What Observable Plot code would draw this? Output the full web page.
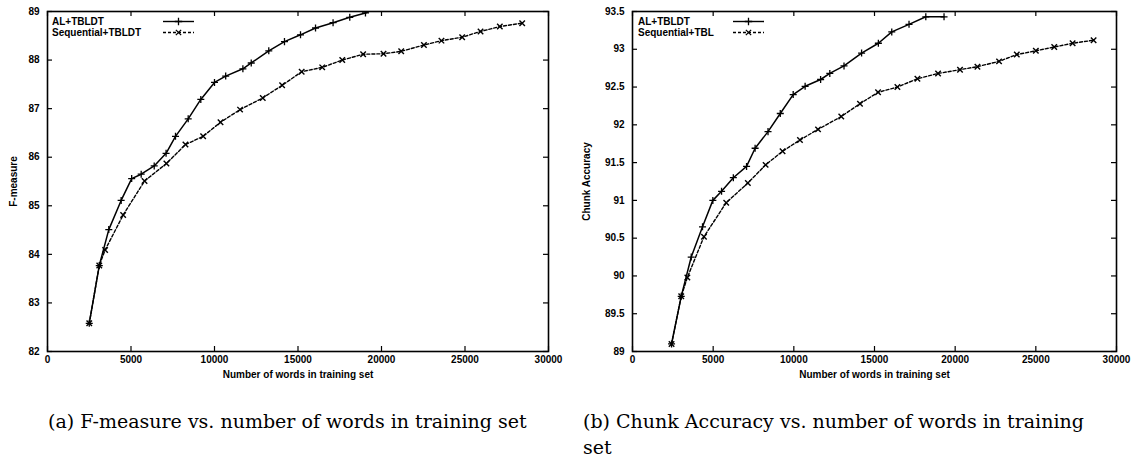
<!DOCTYPE html>
<html><head><meta charset="utf-8">
<script src="https://cdn.jsdelivr.net/npm/d3@7"></script>
<script src="https://cdn.jsdelivr.net/npm/@observablehq/plot@0.6"></script>
<style>
html,body{margin:0;padding:0;background:#fff}
body{width:1136px;height:459px;position:relative;overflow:hidden;font-family:"Liberation Sans",Arial,sans-serif}
.panel{position:absolute;top:0}
.legend{position:absolute;top:0;left:0;pointer-events:none}
.cap{position:absolute;font-family:"DejaVu Serif","Liberation Serif",serif;font-size:19px;line-height:26px;color:#000;white-space:nowrap}
</style></head><body>
<div id="a" class="panel" style="left:0;width:560px;height:380px"></div>
<div id="b" class="panel" style="left:580px;width:556px;height:380px"></div>
<div class="cap" style="left:48px;top:408px">(a) F-measure vs. number of words in training set</div>
<div class="cap" style="left:583px;top:408px">(b) Chunk Accuracy vs. number of words in training<br>set</div>
<script>
// ---- data ----
const xTicks = [0, 5000, 10000, 15000, 20000, 25000, 30000];
const yTicksA = [82, 83, 84, 85, 86, 87, 88, 89];
const yTicksB = [89, 89.5, 90, 90.5, 91, 91.5, 92, 92.5, 93, 93.5];
const seriesNames = ["AL+TBLDT", "Sequential+TBLDT", "Sequential+TBL"];

// (a) F-measure
const alWordsA = [2500, 3100, 3670, 4410, 5040, 5610, 6390, 7100, 7665, 8425, 9180, 10000, 10670, 11700, 12200, 13250, 14190, 15150, 16050, 17100, 18100, 19040, 20000];
const alFA     = [82.58, 83.77, 84.51, 85.11, 85.56, 85.65, 85.82, 86.08, 86.43, 86.79, 87.19, 87.54, 87.67, 87.82, 87.94, 88.19, 88.38, 88.52, 88.66, 88.77, 88.88, 88.97, 89.12];
const seqWordsA = [2500, 3100, 3450, 4530, 5810, 7120, 8260, 9320, 10360, 11530, 12890, 14050, 15220, 16450, 17650, 18900, 20120, 21180, 22540, 23590, 24830, 25930, 27085, 28425];
const seqFA     = [82.58, 83.77, 84.09, 84.81, 85.51, 85.87, 86.26, 86.43, 86.72, 86.98, 87.22, 87.48, 87.76, 87.85, 88.00, 88.12, 88.13, 88.18, 88.31, 88.40, 88.47, 88.59, 88.69, 88.76];

// (b) Chunk accuracy
const alWordsB = [2420, 3020, 3640, 4340, 4980, 5520, 6250, 7070, 7600, 8400, 9160, 9960, 10700, 11660, 12230, 13110, 14200, 15240, 16070, 17140, 18180, 19310];
const alAccB   = [89.10, 89.73, 90.25, 90.65, 91.00, 91.12, 91.30, 91.45, 91.69, 91.91, 92.15, 92.40, 92.51, 92.60, 92.68, 92.78, 92.95, 93.08, 93.23, 93.33, 93.43, 93.43];
const seqWordsB = [2420, 3020, 3400, 4430, 5810, 7150, 8250, 9300, 10380, 11500, 12940, 14100, 15220, 16420, 17660, 18940, 20300, 21380, 22720, 23820, 25000, 26140, 27280, 28580];
const seqAccB   = [89.10, 89.73, 89.98, 90.52, 90.97, 91.23, 91.47, 91.65, 91.80, 91.94, 92.11, 92.28, 92.43, 92.50, 92.61, 92.68, 92.73, 92.77, 92.84, 92.93, 92.98, 93.03, 93.08, 93.12];

const zip = (xs, ys) => xs.map((x, i) => ({x, y: ys[i]}));

function chart({al, seq, yDomain, yTicks, yLabel, width, marginLeft, marginRight, yLabelOffset}) {
  const H = 380, mT = 11, mB = 29;
  const ph = H - mT - mB, pw = width - marginLeft - marginRight, t = 5;
  return Plot.plot({
    width, height: H, marginTop: mT, marginBottom: mB, marginLeft, marginRight,
    x: {domain: [0, 30000]},
    y: {domain: yDomain},
    style: {fontFamily: "'Liberation Sans', Arial, sans-serif", fontSize: "10px", fontWeight: "bold", color: "#000", background: "#fff", overflow: "visible"},
    marks: [
      Plot.tickX(xTicks, {x: d => d, insetTop: ph - t, stroke: "#000", strokeWidth: 1.2}),
      Plot.tickX(xTicks, {x: d => d, insetBottom: ph - t, stroke: "#000", strokeWidth: 1.2}),
      Plot.tickY(yTicks, {y: d => d, insetRight: pw - t, stroke: "#000", strokeWidth: 1.2}),
      Plot.tickY(yTicks, {y: d => d, insetLeft: pw - t, stroke: "#000", strokeWidth: 1.2}),
      Plot.axisX({ticks: xTicks, tickSize: 0, tickPadding: 4, tickFormat: d => String(d),
        label: "Number of words in training set", labelAnchor: "center", labelArrow: "none", labelOffset: 26}),
      Plot.axisY({ticks: yTicks, tickSize: 0, tickPadding: 8, tickFormat: d => String(d),
        label: yLabel, labelAnchor: "center", labelArrow: "none", labelOffset: yLabelOffset}),
      Plot.line(seq, {x: "x", y: "y", stroke: "#000", strokeWidth: 1.4, strokeDasharray: "3,2", clip: true}),
      Plot.dot(seq, {x: "x", y: "y", symbol: "times", r: 2.6, stroke: "#000", strokeWidth: 1.4, clip: true}),
      Plot.line(al, {x: "x", y: "y", stroke: "#000", strokeWidth: 1.5, clip: true}),
      Plot.dot(al, {x: "x", y: "y", symbol: "plus", r: 2.4, stroke: "#000", strokeWidth: 1.3, clip: true}),
      Plot.frame({stroke: "#000", strokeWidth: 1.6})
    ]
  });
}

function legend(container, names, textX, lineX0, lineX1) {
  const ns = "http://www.w3.org/2000/svg";
  const svg = d3.select(container).append("svg").attr("class", "legend")
    .attr("width", 300).attr("height", 45).attr("xmlns", ns);
  const rows = [{name: names[0], y: 21.5, dash: null, sym: d3.symbolPlus}, {name: names[1], y: 32.5, dash: "3,2", sym: d3.symbolTimes}];
  for (const r of rows) {
    svg.append("text").attr("x", textX).attr("y", r.y).attr("dy", "0.35em")
      .attr("font-family", "'Liberation Sans', Arial, sans-serif").attr("font-size", 10).attr("font-weight", "bold")
      .text(r.name);
    svg.append("line").attr("x1", lineX0).attr("x2", lineX1).attr("y1", r.y).attr("y2", r.y)
      .attr("stroke", "#000").attr("stroke-width", 1.4).attr("stroke-dasharray", r.dash);
    svg.append("path").attr("d", d3.symbol(r.sym, 20)()).attr("transform", `translate(${(lineX0 + lineX1) / 2},${r.y})`)
      .attr("fill", "none").attr("stroke", "#000").attr("stroke-width", 1.3);
  }
}

const A = document.getElementById("a");
A.appendChild(chart({al: zip(alWordsA, alFA), seq: zip(seqWordsA, seqFA), yDomain: [82, 89], yTicks: yTicksA,
  yLabel: "F-measure", width: 560, marginLeft: 47, marginRight: 12, yLabelOffset: 38}));
legend(A, [seriesNames[0], seriesNames[1]], 52, 163, 194);

const B = document.getElementById("b");
B.appendChild(chart({al: zip(alWordsB, alAccB), seq: zip(seqWordsB, seqAccB), yDomain: [89, 93.5], yTicks: yTicksB,
  yLabel: "Chunk Accuracy", width: 556, marginLeft: 52, marginRight: 20, yLabelOffset: 50}));
legend(B, [seriesNames[0], seriesNames[2]], 58, 153, 184);
</script>
</body></html>
